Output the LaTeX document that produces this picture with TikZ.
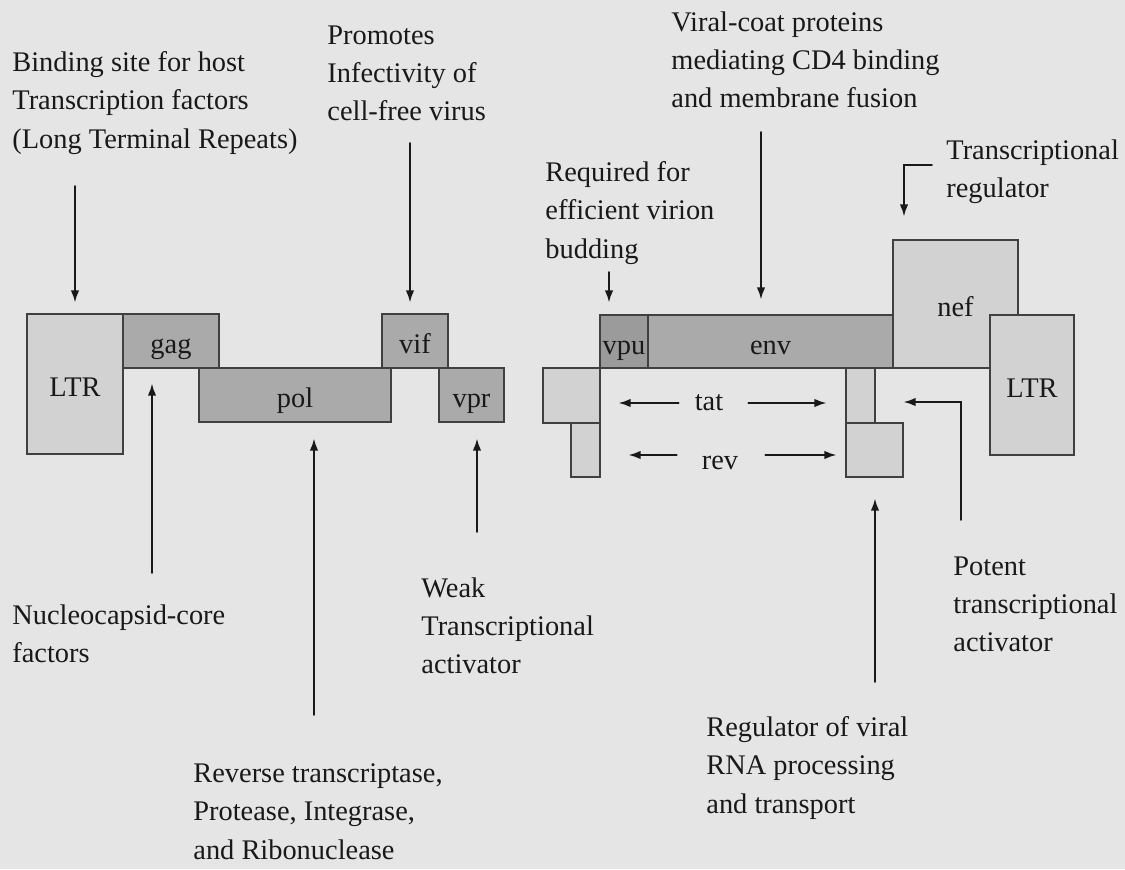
\documentclass[tikz,border=0pt]{standalone}
\usepackage{fontspec}
\setmainfont{Liberation Serif}
\usepackage{xcolor}
\usepackage{tikz}
\usetikzlibrary{calc,positioning,arrows.meta}

\definecolor{paper}{RGB}{229,229,229}
\definecolor{lightgene}{RGB}{210,210,210}
\definecolor{darkgene}{RGB}{170,170,170}
\definecolor{vpugene}{RGB}{155,155,155}

\begin{document}
\begin{tikzpicture}[x=0.5pt, y=-0.5pt, line cap=round,
  font=\fontsize{14.2}{19.2}\selectfont,
  gene/.style={draw=black!75, line width=0.6pt, inner sep=0pt, text=black!90,
    text height=12.6pt, text depth=0pt},
  light/.style={gene, fill=lightgene},
  dark/.style={gene, fill=darkgene},
  darker/.style={gene, fill=vpugene},
  note/.style={anchor=north west, align=left, inner sep=0pt, text=black!90},
  arr/.style={-{Latex[length=6pt,width=4.2pt]}, line width=0.8pt, draw=black!90}]

  \fill[paper] (0,0) rectangle (1125,869);
  \useasboundingbox (0,0) rectangle (1125,869);

  \newcommand{\gene}[7]{% #1=name, #2=x1, #3=y1, #4=x2, #5=y2, #6=style, #7=label
    \node[#6, minimum width={(#4-#2)*0.5pt}, minimum height={(#5-#3)*0.5pt}]
      (#1) at ({(#2+#4)/2},{(#3+#5)/2}) {#7};
  }

  % 5' half of the genome
  \gene{ltrA}{27}{314}{123}{454}{light}{LTR}
  \gene{pol}{199}{368}{391}{422}{dark}{pol}
  \gene{gag}{123}{314}{219}{368}{dark}{gag}
  \gene{vif}{382}{314}{448}{368}{dark}{vif}
  \gene{vpr}{439}{368}{504}{422}{dark}{vpr}

  % 3' half of the genome
  \gene{tatA}{543}{368}{600}{423}{light}{}
  \gene{revA}{571}{423}{600}{477}{light}{}
  \gene{vpu}{600}{315}{648}{368}{darker}{vpu}
  \gene{env}{648}{315}{893}{368}{dark}{env}
  \gene{tatB}{846}{368}{875}{423}{light}{}
  \gene{revB}{846}{423}{903}{477}{light}{}
  \gene{nef}{893}{240}{1018}{368}{light}{nef}
  \gene{ltrB}{990}{315}{1074}{455}{light}{LTR}

  \node[text=black!90] (tat) at (709,403) {tat};
  \node[text=black!90] (rev) at (720,463) {rev};

  \node[note] (bind) at (12,51) {Binding site for host\\Transcription factors\\(Long Terminal Repeats)};
  \node[note] (promo) at (327,25) {Promotes\\Infectivity of\\cell-free virus};
  \node[note] (coat) at (671,11) {Viral-coat proteins\\mediating CD4 binding\\and membrane fusion};
  \node[note] (bud) at (545,161) {Required for\\efficient virion\\budding};
  \node[note] (treg) at (946,139) {Transcriptional\\regulator};
  \node[note] (core) at (12,604) {Nucleocapsid-core\\factors};
  \node[note] (weak) at (421,577) {Weak\\Transcriptional\\activator};
  \node[note] (enz) at (193,763) {Reverse transcriptase,\\Protease, Integrase,\\and Ribonuclease};
  \node[note] (potent) at (953,556) {Potent\\transcriptional\\activator};
  \node[note] (rna) at (706,716) {Regulator of viral\\RNA processing\\and transport};

  \coordinate (bindend) at (75,186);
  \coordinate (promoend) at (410,143);
  \coordinate (coatend) at (761,132);
  \coordinate (budend) at (609,272);
  \coordinate (tregend) at (932,165);
  \coordinate (tregturn) at (904,165);
  \coordinate (coreend) at (152,573);
  \coordinate (enzend) at (314,715);
  \coordinate (weakend) at (477,532);
  \coordinate (rnaend) at (875,682);
  \coordinate (potentend) at (961,520);
  \coordinate (potentturn) at (961,402);

  \draw[arr, shorten >=5.5pt] (bindend) -- (bindend |- ltrA.north);
  \draw[arr, shorten >=5.5pt] (promoend) -- (promoend |- vif.north);
  \draw[arr, shorten >=7.5pt] (coatend) -- (coatend |- env.north);
  \draw[arr, shorten >=6pt] (budend) -- (budend |- vpu.north);
  \draw[arr, shorten >=11.5pt] (tregend) -- (tregturn) -- (tregturn |- nef.north);
  \draw[arr, shorten >=7.5pt] (coreend) -- (coreend |- gag.south);
  \draw[arr, shorten >=8pt] (enzend) -- (enzend |- pol.south);
  \draw[arr, shorten >=8pt] (weakend) -- (weakend |- vpr.south);
  \draw[arr, shorten >=10.5pt] (rnaend) -- (rnaend |- revB.south);
  \draw[arr] (potentend) -- (potentturn) -- (potentturn -| revB.east);

  \draw[arr, shorten <=4.5pt, shorten >=9pt] (tat.west) -- (tat.west -| tatA.east);
  \draw[arr, shorten <=9pt, shorten >=9.5pt] (tat.east) -- (tat.east -| tatB.west);
  \draw[arr, shorten <=9pt, shorten >=14pt] ([yshift=4pt]rev.west) -- ([yshift=4pt]rev.west -| revA.east);
  \draw[arr, shorten <=10pt, shorten >=4.5pt] ([yshift=4pt]rev.east) -- ([yshift=4pt]rev.east -| revB.west);
\end{tikzpicture}
\end{document}
